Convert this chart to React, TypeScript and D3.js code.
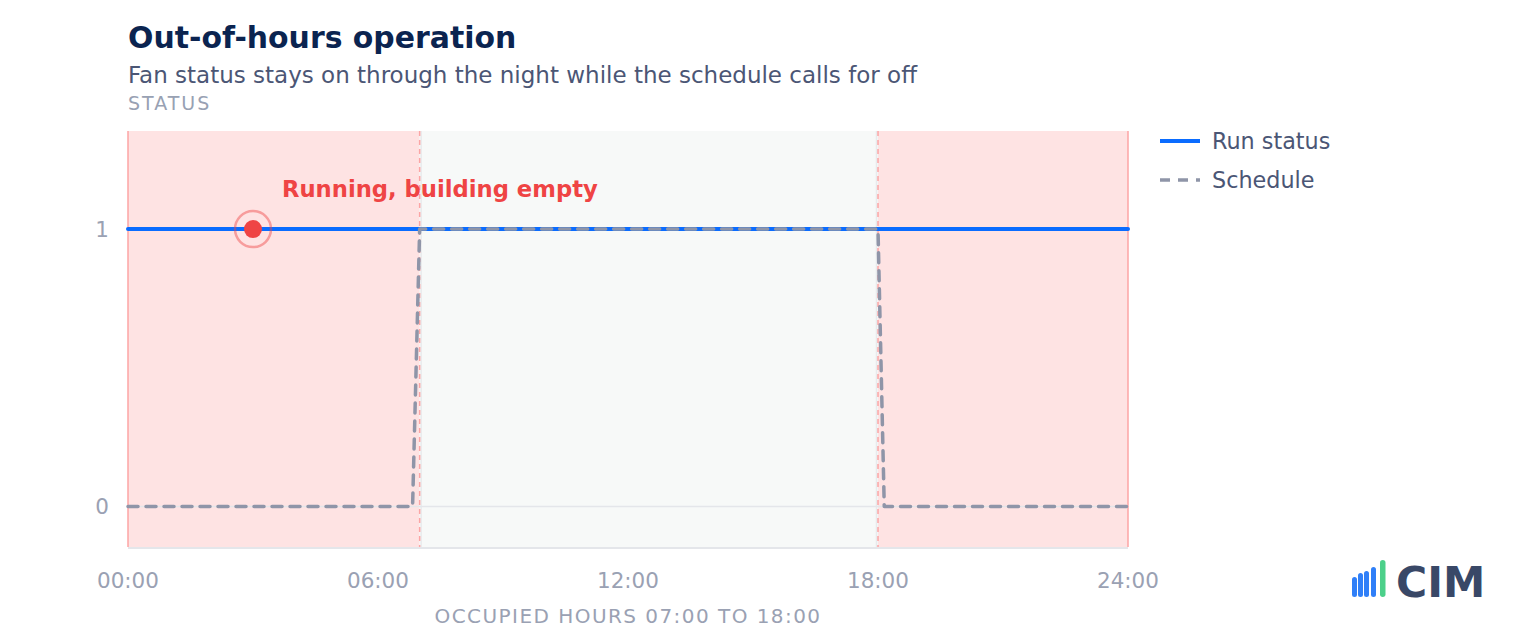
import React from 'react';
import * as d3 from 'd3';

// hours of the day (0-24) and the status values
const runHours = [0, 24];
const runValues = [1, 1];
const scheduleHours = [0, 6.83, 7, 18, 18.15, 24];
const scheduleValues = [0, 0, 1, 1, 0, 0];
const occupiedStart = 7;
const occupiedEnd = 18;
const xTicks = [0, 6, 12, 18, 24];
const yTicks = [0, 1];
const annotationHour = 3;
const annotationValue = 1;

const W = 1520;
const H = 640;
const margin = { top: 132, right: 392, bottom: 92, left: 128 };
const FONT = '"DejaVu Sans", Verdana, sans-serif';

const fmtHour = (h: number) => `${String(h).padStart(2, '0')}:00`;

const App: React.FC = () => {
  const x = d3.scaleLinear().domain([0, 24]).range([margin.left, W - margin.right]);
  const y = d3.scaleLinear().domain([-0.15, 1.35]).range([H - margin.bottom, margin.top]);

  const line = d3
    .line<[number, number]>()
    .x(d => x(d[0]))
    .y(d => y(d[1]));

  const runPath = line(runHours.map((h, i) => [h, runValues[i]]) as [number, number][]) || '';
  const schedPath = line(scheduleHours.map((h, i) => [h, scheduleValues[i]]) as [number, number][]) || '';

  const top = 131;
  const bottom = 547;
  const x0 = x(0);
  const x1 = x(24);

  return (
    <div style={{ position: 'fixed', left: 0, top: 0 }}>
      <svg width={W} height={H} style={{ display: 'block', fontFamily: FONT }}>
        <rect width={W} height={H} fill="#ffffff" />

        {/* titles */}
        <text x={128} y={48} fontSize={29.9} fontWeight="bold" fill="#0b2450">
          Out-of-hours operation
        </text>
        <text x={128} y={83} fontSize={23} fill="#4b5675">
          Fan status stays on through the night while the schedule calls for off
        </text>
        <text x={128} y={110} fontSize={19} letterSpacing={2} fill="#98a1b3">
          STATUS
        </text>

        {/* background bands */}
        <rect x={x0} y={top} width={x(occupiedStart) - x0} height={bottom - top} fill="#fee3e3" />
        <rect
          x={x(occupiedStart)}
          y={top}
          width={x(occupiedEnd) - x(occupiedStart)}
          height={bottom - top}
          fill="#f7f9f8"
        />
        <rect x={x(occupiedEnd)} y={top} width={x1 - x(occupiedEnd)} height={bottom - top} fill="#fee3e3" />
        <line x1={x(occupiedStart) + 1.5} x2={x(occupiedStart) + 1.5} y1={top} y2={bottom} stroke="#e8eaec" strokeWidth={1.5} />
        <line x1={x(occupiedEnd) - 1.5} x2={x(occupiedEnd) - 1.5} y1={top} y2={bottom} stroke="#e8eaec" strokeWidth={1.5} />
        <line x1={x0} x2={x0} y1={top} y2={bottom} stroke="#fca5a5" strokeWidth={1.5} />
        <line x1={x1} x2={x1} y1={top} y2={bottom} stroke="#fca5a5" strokeWidth={1.5} />
        {[occupiedStart, occupiedEnd].map(h => (
          <line
            key={h}
            x1={x(h)}
            x2={x(h)}
            y1={top}
            y2={bottom}
            stroke="#fca5a5"
            strokeWidth={1.5}
            strokeDasharray="5 4"
          />
        ))}

        {/* grid + axis */}
        <line x1={x0} x2={x1} y1={y(0)} y2={y(0)} stroke="#e4e6ea" strokeWidth={1.5} />
        <line x1={x0} x2={x1} y1={bottom + 1} y2={bottom + 1} stroke="#e4e6ea" strokeWidth={2} />

        {yTicks.map(t => (
          <text key={t} x={109} y={y(t)} dy="0.36em" textAnchor="end" fontSize={21.5} fill="#9aa1b3">
            {t}
          </text>
        ))}
        {xTicks.map(t => (
          <text key={t} x={x(t)} y={588} textAnchor="middle" fontSize={21.5} fill="#9aa1b3">
            {fmtHour(t)}
          </text>
        ))}
        <text x={x(12)} y={623} textAnchor="middle" fontSize={20} letterSpacing={1.45} fill="#9aa1b3">
          OCCUPIED HOURS 07:00 TO 18:00
        </text>

        {/* series */}
        <path d={runPath} fill="none" stroke="#0a6cff" strokeWidth={4} strokeLinecap="round" />
        <path
          d={schedPath}
          fill="none"
          stroke="#8f95a8"
          strokeWidth={3.5}
          strokeDasharray="10 8"
          strokeLinecap="round"
          strokeLinejoin="round"
        />

        {/* annotation */}
        <circle cx={x(annotationHour)} cy={y(annotationValue)} r={18} fill="none" stroke="#ef4444" strokeOpacity={0.45} strokeWidth={2.5} />
        <circle cx={x(annotationHour)} cy={y(annotationValue)} r={9} fill="#ef4444" />
        <text x={282} y={197} fontSize={22.7} fontWeight="bold" fill="#ef4444">
          Running, building empty
        </text>

        {/* legend */}
        <line x1={1160} x2={1200} y1={141} y2={141} stroke="#0a6cff" strokeWidth={4} />
        <text x={1212} y={141} dy="0.36em" fontSize={22.3} fill="#4b5675">
          Run status
        </text>
        <line x1={1160} x2={1200} y1={180} y2={180} stroke="#8f95a8" strokeWidth={3.5} strokeDasharray="10 8" />
        <text x={1212} y={180} dy="0.36em" fontSize={22.3} fill="#4b5675">
          Schedule
        </text>

        {/* logo */}
        <g>
          <rect x={1352} y={577} width={5} height={20} rx={2.5} fill="#2f7ff8" />
          <rect x={1358} y={573} width={5} height={24} rx={2.5} fill="#2f7ff8" />
          <rect x={1364} y={571} width={5} height={26} rx={2.5} fill="#2f7ff8" />
          <rect x={1371} y={567} width={5} height={30} rx={2.5} fill="#2f7ff8" />
          <rect x={1380} y={560} width={5.5} height={37} rx={2.75} fill="#4cd08a" />
          <text x={1396} y={597} fontSize={42.5} fontWeight="bold" fill="#394867">
            CIM
          </text>
        </g>
      </svg>
    </div>
  );
};

export default App;
